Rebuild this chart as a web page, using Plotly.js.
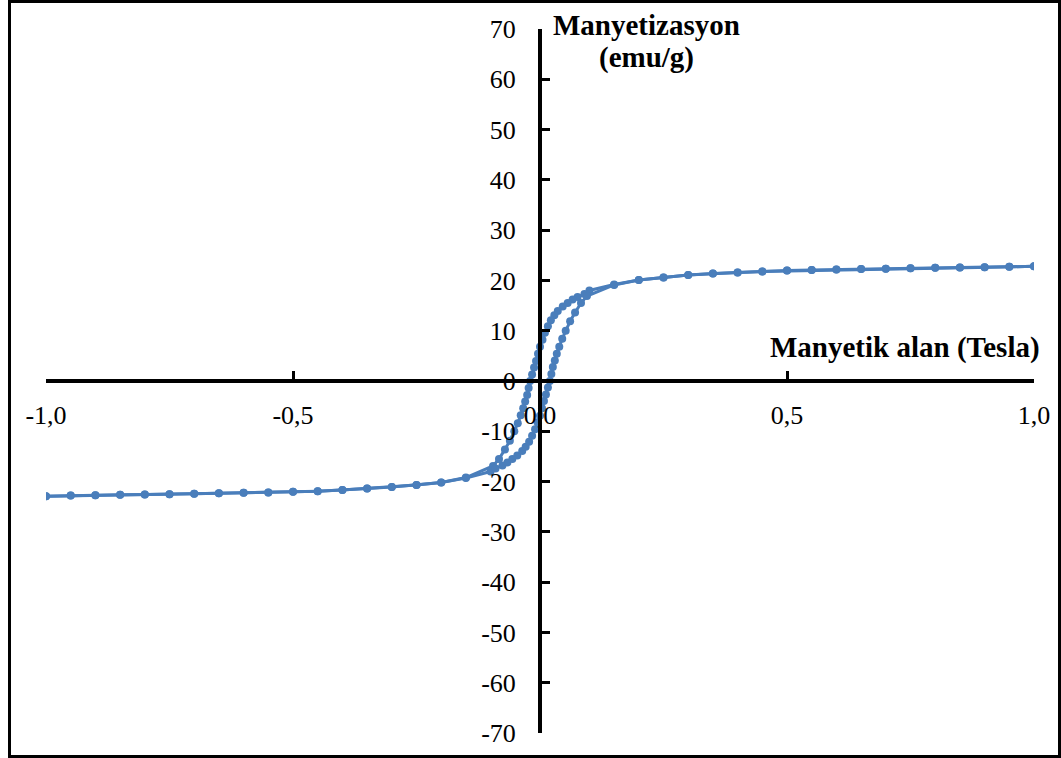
<!DOCTYPE html>
<html>
<head>
<meta charset="utf-8">
<script src="https://cdn.plot.ly/plotly-3.0.1.min.js"></script>
<style>
  html, body { margin: 0; padding: 0; background: #ffffff; }
  #chart { width: 1061px; height: 758px; }
</style>
</head>
<body>
<div id="chart"></div>
<script>
// Descending branch (field swept from +1 T to -1 T)
var fieldDown = [1.00, 0.95, 0.90, 0.85, 0.80, 0.75, 0.70, 0.65, 0.60, 0.55, 0.50, 0.45, 0.40, 0.35, 0.30, 0.25, 0.20, 0.15,
  0.100, 0.090, 0.076, 0.066, 0.056, 0.046, 0.036, 0.029, 0.022, 0.016, 0.010, 0.005, 0.000,
  -0.004, -0.008, -0.012, -0.016, -0.020, -0.023, -0.026, -0.030, -0.034, -0.039, -0.045, -0.052, -0.061, -0.071, -0.083, -0.095,
  -0.15, -0.20, -0.25, -0.30, -0.35, -0.40, -0.45, -0.50, -0.55, -0.60, -0.65, -0.70, -0.75, -0.80, -0.85, -0.90, -0.95, -1.00];
var magDown = [22.8, 22.7, 22.6, 22.55, 22.5, 22.4, 22.3, 22.25, 22.15, 22.05, 21.95, 21.8, 21.6, 21.4, 21.1, 20.6, 20.1, 19.2,
  18.0, 17.3, 16.7, 16.2, 15.5, 14.8, 13.9, 13.1, 12.1, 10.9, 9.6, 8.2, 6.8,
  5.4, 4.0, 2.7, 1.3, 0.0, -1.4, -2.8, -4.1, -5.4, -6.8, -8.4, -10.0, -11.9, -13.6, -15.5, -16.9,
  -19.2, -20.2, -20.7, -21.1, -21.4, -21.7, -21.9, -22.0, -22.15, -22.2, -22.3, -22.4, -22.5, -22.55, -22.6, -22.7, -22.75, -22.9];

// Ascending branch (field swept from -1 T back to +1 T)
var fieldUp = [-1.00, -0.95, -0.90, -0.85, -0.80, -0.75, -0.70, -0.65, -0.60, -0.55, -0.50, -0.45, -0.40, -0.35, -0.30, -0.25, -0.20, -0.15,
  -0.100, -0.090, -0.076, -0.066, -0.056, -0.046, -0.036, -0.029, -0.022, -0.016, -0.010, -0.005, 0.000,
  0.004, 0.008, 0.012, 0.016, 0.020, 0.023, 0.026, 0.030, 0.034, 0.039, 0.045, 0.052, 0.061, 0.071, 0.083, 0.095,
  0.15, 0.20, 0.25, 0.30, 0.35, 0.40, 0.45, 0.50, 0.55, 0.60, 0.65, 0.70, 0.75, 0.80, 0.85, 0.90, 0.95, 1.00];
var magUp = [-22.9, -22.75, -22.7, -22.6, -22.55, -22.5, -22.4, -22.3, -22.2, -22.15, -22.0, -21.9, -21.7, -21.4, -21.1, -20.7, -20.2, -19.3,
  -18.0, -17.4, -16.8, -16.2, -15.5, -14.8, -13.9, -13.1, -12.1, -10.9, -9.6, -8.2, -6.9,
  -5.4, -4.0, -2.7, -1.3, 0.0, 1.4, 2.8, 4.1, 5.4, 6.8, 8.4, 10.0, 11.9, 13.6, 15.5, 16.9,
  19.1, 20.1, 20.6, 21.1, 21.4, 21.6, 21.8, 21.95, 22.05, 22.15, 22.25, 22.3, 22.4, 22.5, 22.55, 22.6, 22.7, 22.8];

var xTickVals = [-1.0, -0.5, 0.0, 0.5, 1.0];
var xTickText = ['-1,0', '-0,5', '0,0', '0,5', '1,0'];
var yTickVals = [-70, -60, -50, -40, -30, -20, -10, 0, 10, 20, 30, 40, 50, 60, 70];
var yTickText = ['-70', '-60', '-50', '-40', '-30', '-20', '-10', '0', '10', '20', '30', '40', '50', '60', '70'];

var xTitle = 'Manyetik alan (Tesla)';
var yTitleLine1 = 'Manyetizasyon';
var yTitleLine2 = '(emu/g)';

var W = 1061, H = 758;
var M = { l: 46, r: 27, t: 29, b: 25 };
var pw = W - M.l - M.r, ph = H - M.t - M.b;
function px2x(p) { return (p - M.l) / pw; }
function px2y(p) { return (H - M.b - p) / ph; }

var blue = '#4a7ebb';
var serif = 'Liberation Serif, Times New Roman, serif';

var traceStyle = {
  type: 'scatter', mode: 'lines+markers',
  line: { color: blue, width: 3 },
  marker: { color: blue, size: 8 },
  showlegend: false, hoverinfo: 'x+y'
};

var data = [
  Object.assign({ x: fieldDown, y: magDown }, traceStyle),
  Object.assign({ x: fieldUp, y: magUp }, traceStyle)
];

var layout = {
  width: W, height: H,
  margin: M,
  paper_bgcolor: '#ffffff', plot_bgcolor: '#ffffff',
  showlegend: false,
  font: { family: serif, color: '#000000', size: 26 },
  xaxis: {
    range: [-1, 1], anchor: 'free', position: 0.5,
    showgrid: false, zeroline: false,
    showline: true, linecolor: '#000000', linewidth: 4,
    ticks: 'inside', ticklen: 8, tickwidth: 3, tickcolor: '#000000',
    tickvals: xTickVals, ticktext: xTickText,
    tickfont: { family: serif, size: 26, color: '#000000' },
    ticklabelstandoff: 10
  },
  yaxis: {
    range: [-70, 70], anchor: 'free', position: 0.5,
    showgrid: false, zeroline: false,
    showline: true, linecolor: '#000000', linewidth: 4,
    ticks: 'inside', ticklen: 8, tickwidth: 3, tickcolor: '#000000',
    tickvals: yTickVals, ticktext: yTickText,
    tickfont: { family: serif, size: 26, color: '#000000' },
    ticklabelstandoff: 17
  },
  shapes: [{
    type: 'rect', xref: 'paper', yref: 'paper', layer: 'above',
    x0: px2x(9.5), x1: px2x(1059.5), y0: px2y(756.5), y1: px2y(1.5),
    line: { color: '#000000', width: 3 }, fillcolor: 'rgba(0,0,0,0)'
  }],
  annotations: [
    { xref: 'paper', yref: 'paper', x: px2x(1042), y: px2y(347), xanchor: 'right', yanchor: 'middle',
      text: '<b>' + xTitle + '</b>', showarrow: false, font: { family: serif, size: 29, color: '#000000' } },
    { xref: 'paper', yref: 'paper', x: px2x(646), y: px2y(25), xanchor: 'center', yanchor: 'middle',
      text: '<b>' + yTitleLine1 + '</b>', showarrow: false, font: { family: serif, size: 29, color: '#000000' } },
    { xref: 'paper', yref: 'paper', x: px2x(646), y: px2y(58), xanchor: 'center', yanchor: 'middle',
      text: '<b>' + yTitleLine2 + '</b>', showarrow: false, font: { family: serif, size: 29, color: '#000000' } }
  ]
};

Plotly.newPlot('chart', data, layout, { displayModeBar: false, staticPlot: true });
</script>
</body>
</html>
